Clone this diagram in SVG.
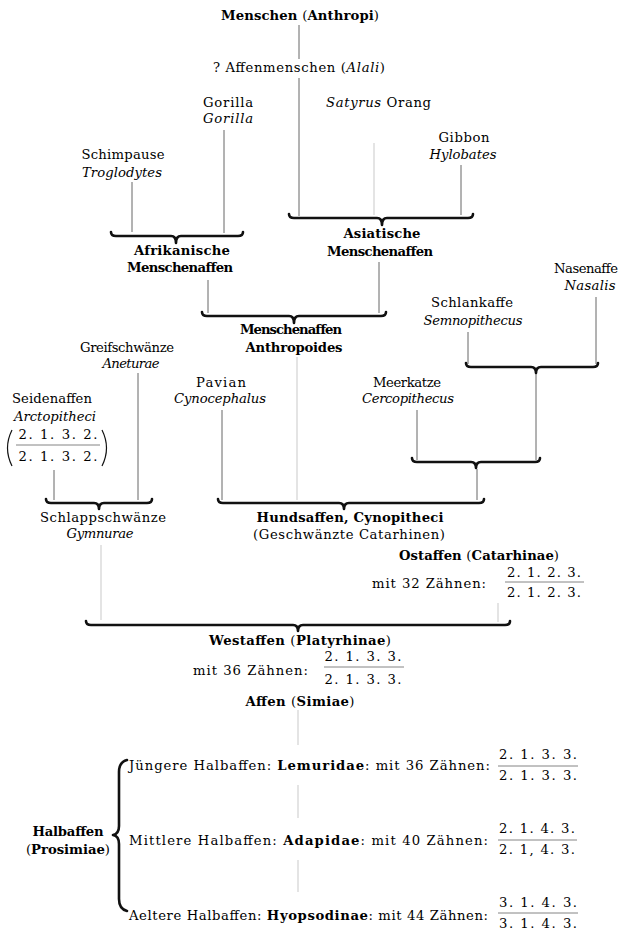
<svg xmlns="http://www.w3.org/2000/svg" width="621" height="930" viewBox="0 0 621 930">
<style>
text{font-family:"DejaVu Serif","Liberation Serif",serif;font-size:13.2px;fill:#000;}
.m{text-anchor:middle;}
.b{font-weight:bold;}
.i{font-style:italic;}
.n{font-weight:normal;}
.ln{stroke:#555;stroke-width:0.9;fill:none;}
.fl{stroke:#666;stroke-width:0.8;fill:none;}
.faint{stroke:#bbb;stroke-width:0.8;fill:none;}
.br{stroke:#111;stroke-width:2.6;fill:none;stroke-linecap:round;stroke-linejoin:round;}
.par{stroke:#111;stroke-width:1.2;fill:none;}
</style>
<rect width="621" height="930" fill="#fff"/>

<g id="connectors">
  <line class="ln" x1="299" y1="25" x2="299" y2="59"/>
  <line class="ln" x1="299" y1="78" x2="299" y2="216"/>
  <line class="ln" x1="224" y1="130" x2="224" y2="233"/>
  <line class="ln" x1="132" y1="182" x2="132" y2="232"/>
  <line class="faint" x1="374" y1="143" x2="374" y2="215"/>
  <line class="ln" x1="461" y1="165" x2="461" y2="215"/>
  <line class="ln" x1="208" y1="280" x2="208" y2="313"/>
  <line class="ln" x1="379" y1="262" x2="379" y2="313"/>
  <line class="ln" x1="596" y1="297" x2="596" y2="364"/>
  <line class="ln" x1="468" y1="332" x2="468" y2="364"/>
  <line class="ln" x1="536" y1="373" x2="536" y2="460"/>
  <line class="ln" x1="417" y1="410" x2="417" y2="460"/>
  <line class="ln" x1="477" y1="469" x2="477" y2="500"/>
  <line class="ln" x1="222" y1="410" x2="222" y2="500"/>
  <line class="faint" x1="297" y1="357" x2="297" y2="500"/>
  <line class="ln" x1="138" y1="373" x2="138" y2="500"/>
  <line class="ln" x1="54" y1="470" x2="54" y2="500"/>
  <line class="faint" x1="101" y1="545" x2="101" y2="620"/>
  <line class="faint" x1="498" y1="603" x2="498" y2="622"/>
  <line class="faint" x1="298" y1="710" x2="298" y2="745"/>
  <line class="faint" x1="298" y1="785" x2="298" y2="818"/>
  <line class="faint" x1="298" y1="860" x2="298" y2="892"/>

  <path class="br" d="M289,214 Q289,218 294,218 L377,218 Q382,218 382,225 Q382,218 387,218 L468,218 Q473,218 473,214"/>
  <path class="br" d="M111,232 Q111,236 116,236 L171,236 Q176,236 176,243 Q176,236 181,236 L238,236 Q243,236 243,232"/>
  <path class="br" d="M202,312 Q202,316 207,316 L289,316 Q294,316 294,323 Q294,316 299,316 L381,316 Q386,316 386,312"/>
  <path class="br" d="M466,363 Q466,367 471,367 L531,367 Q536,367 536,373 Q536,367 541,367 L593,367 Q598,367 598,363"/>
  <path class="br" d="M412,458 Q412,462 417,462 L471,462 Q476,462 476,468 Q476,462 481,462 L535,462 Q540,462 540,458"/>
  <path class="br" d="M46,499 Q46,503 51,503 L94,503 Q99,503 99,509 Q99,503 104,503 L147,503 Q152,503 152,499"/>
  <path class="br" d="M218,499 Q218,503 223,503 L339,503 Q344,503 344,509 Q344,503 349,503 L479,503 Q484,503 484,499"/>
  <path class="br" d="M86,621 Q86,625 91,625 L293,625 Q298,625 298,631 Q298,625 303,625 L505,625 Q510,625 510,621"/>
  <path class="br" d="M127,760 Q119,762 119,772 L119,826 Q119,834 113,835 Q119,836 119,844 L119,899 Q119,909 127,911"/>
</g>

<g id="n-menschen"><text class="m b" x="300" y="20" textLength="158">Menschen <tspan class="n">(</tspan>Anthropi<tspan class="n">)</tspan></text></g>
<g id="n-affenmenschen"><text class="m" x="299" y="72" textLength="172">? Affenmenschen (<tspan class="i">Alali</tspan>)</text></g>
<g id="n-gorilla"><text class="m" x="228" y="107" textLength="50">Gorilla</text><text class="m i" x="228" y="123" textLength="50">Gorilla</text></g>
<g id="n-orang"><text x="326" y="107" textLength="105"><tspan class="i">Satyrus</tspan> Orang</text></g>
<g id="n-gibbon"><text class="m" x="464" y="142" textLength="51">Gibbon</text><text class="m i" x="463" y="159" textLength="67">Hylobates</text></g>
<g id="n-schimpanse"><text class="m" x="123" y="159" textLength="83">Schimpause</text><text class="m i" x="122" y="177" textLength="80">Troglodytes</text></g>
<g id="n-asiatische"><text class="m b" x="382" y="238" textLength="77">Asiatische</text><text class="m b" x="380" y="256" textLength="106">Menschenaffen</text></g>
<g id="n-afrikanische"><text class="m b" x="182" y="255" textLength="96">Afrikanische</text><text class="m b" x="180" y="272" textLength="106">Menschenaffen</text></g>
<g id="n-nasenaffe"><text class="m" x="586" y="273" textLength="64">Nasenaffe</text><text class="m i" x="590" y="290" textLength="51">Nasalis</text></g>
<g id="n-schlankaffe"><text class="m" x="472" y="307" textLength="82">Schlankaffe</text><text class="m i" x="473" y="325" textLength="99">Semnopithecus</text></g>
<g id="n-menschenaffen"><text class="m b" x="291" y="334" textLength="102">Menschenaffen</text><text class="m b" x="294" y="352" textLength="97">Anthropoides</text></g>
<g id="n-greifschwaenze"><text class="m" x="127" y="352" textLength="94">Greifschwänze</text><text class="m i" x="131" y="368" textLength="57">Aneturae</text></g>
<g id="n-pavian"><text class="m" x="221" y="387" textLength="50">Pavian</text><text class="m i" x="220" y="403" textLength="92">Cynocephalus</text></g>
<g id="n-meerkatze"><text class="m" x="407" y="387" textLength="68">Meerkatze</text><text class="m i" x="408" y="403" textLength="92">Cercopithecus</text></g>
<g id="n-seidenaffen">
  <text class="m" x="52" y="403" textLength="80">Seidenaffen</text>
  <text class="m i" x="55" y="421" textLength="82">Arctopitheci</text>
  <path class="par" d="M12,430 Q3,448 12,466"/>
  <text class="m" x="58" y="439" textLength="79">2. 1. 3. 2.</text>
  <line class="fl" x1="16" y1="445" x2="100" y2="445"/>
  <text class="m" x="58" y="461" textLength="79">2. 1. 3. 2.</text>
  <path class="par" d="M102,430 Q111,448 102,466"/>
</g>
<g id="n-schlappschwaenze"><text class="m" x="103" y="522" textLength="126">Schlappschwänze</text><text class="m i" x="100" y="538" textLength="67">Gymnurae</text></g>
<g id="n-hundsaffen"><text class="m b" x="350" y="522" textLength="187">Hundsaffen, Cynopitheci</text><text class="m" x="349" y="539" textLength="192">(Geschwänzte Catarhinen)</text></g>
<g id="n-ostaffen">
  <text class="m b" x="479" y="560" textLength="160">Ostaffen <tspan class="n">(</tspan>Catarhinae<tspan class="n">)</tspan></text>
  <text x="372" y="588" textLength="114">mit 32 Zähnen:</text>
  <text class="m" x="544" y="577" textLength="74">2. 1. 2. 3.</text>
  <line class="fl" x1="505" y1="582" x2="584" y2="582"/>
  <text class="m" x="544" y="597" textLength="74">2. 1. 2. 3.</text>
</g>
<g id="n-westaffen">
  <text class="m b" x="300" y="645" textLength="182">Westaffen <tspan class="n">(</tspan>Platyrhinae<tspan class="n">)</tspan></text>
  <text x="193" y="675" textLength="115">mit 36 Zähnen:</text>
  <text class="m" x="363" y="661" textLength="77">2. 1. 3. 3.</text>
  <line class="fl" x1="324" y1="667" x2="404" y2="667"/>
  <text class="m" x="363" y="684" textLength="77">2. 1. 3. 3.</text>
</g>
<g id="n-affen"><text class="m b" x="300" y="706" textLength="109">Affen <tspan class="n">(</tspan>Simiae<tspan class="n">)</tspan></text></g>
<g id="n-halbaffen"><text class="m b" x="68" y="836" textLength="71">Halbaffen</text><text class="m b" x="68" y="854" textLength="84"><tspan class="n">(</tspan>Prosimiae<tspan class="n">)</tspan></text></g>
<g id="n-lemuridae">
  <text x="129" y="770" textLength="361">Jüngere Halbaffen: <tspan class="b">Lemuridae</tspan>: mit 36 Zähnen:</text>
  <text class="m" x="538" y="759" textLength="78">2. 1. 3. 3.</text>
  <line class="fl" x1="498" y1="766" x2="578" y2="766"/>
  <text class="m" x="538" y="780" textLength="78">2. 1. 3. 3.</text>
</g>
<g id="n-adapidae">
  <text x="129" y="845" textLength="359">Mittlere Halbaffen: <tspan class="b">Adapidae</tspan>: mit 40 Zähnen:</text>
  <text class="m" x="537" y="833" textLength="76">2. 1. 4. 3.</text>
  <line class="fl" x1="498" y1="840" x2="577" y2="840"/>
  <text class="m" x="537" y="854" textLength="76">2. 1, 4. 3.</text>
</g>
<g id="n-hyopsodinae">
  <text x="129" y="920" textLength="359">Aeltere Halbaffen: <tspan class="b">Hyopsodinae</tspan>: mit 44 Zähnen:</text>
  <text class="m" x="538" y="907" textLength="78">3. 1. 4. 3.</text>
  <line class="fl" x1="498" y1="913" x2="578" y2="913"/>
  <text class="m" x="538" y="928" textLength="78">3. 1. 4. 3.</text>
</g>
</svg>
